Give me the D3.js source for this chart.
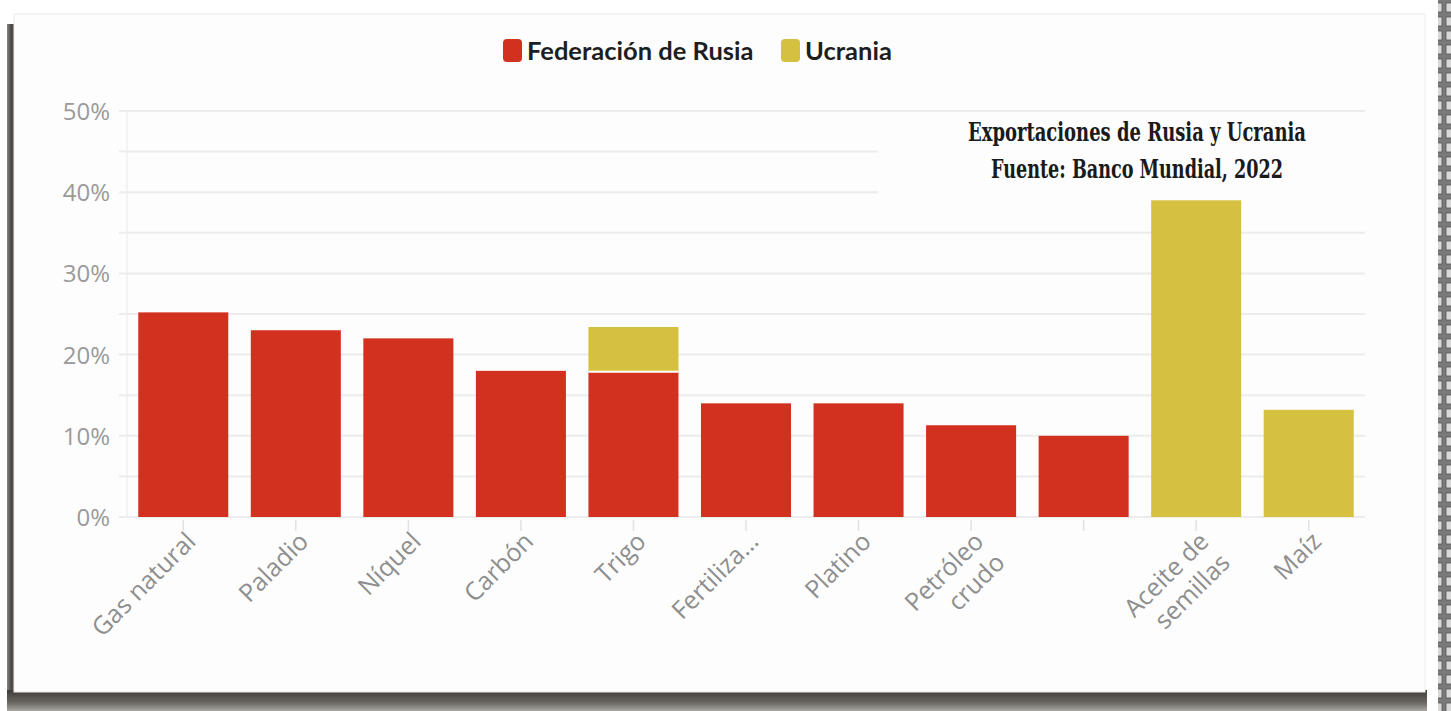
<!DOCTYPE html>
<html>
<head>
<meta charset="utf-8">
<script src="https://cdn.jsdelivr.net/npm/d3@7"></script>
<style>
  html, body { margin: 0; padding: 0; background: #ffffff; }
  svg { display: block; }
</style>
</head>
<body>
<svg id="chart" width="1451" height="711"></svg>
<script>
// ---- Data ----
const categories = ["Gas natural", "Paladio", "Níquel", "Carbón", "Trigo", "Fertiliza…", "Platino", "Petróleo\ncrudo", "", "Aceite de\nsemillas", "Maíz"];
const russiaValues = [25.2, 23.0, 22.0, 18.0, 17.9, 14.0, 14.0, 11.3, 10.0, 0, 0];
const ukraineValues = [0, 0, 0, 0, 5.5, 0, 0, 0, 0, 39.0, 13.2];
const seriesNames = ["Federación de Rusia", "Ucrania"];
const yTicks = [0, 10, 20, 30, 40, 50];
const yGridTicks = [0, 5, 10, 15, 20, 25, 30, 35, 40, 45, 50];
const titleLines = ["Exportaciones de Rusia y Ucrania", "Fuente: Banco Mundial, 2022"];

const RED = "#d2311f";
const YELLOW = "#d6c03f";

const svg = d3.select("#chart");
const W = 1451, H = 711;

// ---- Frame / card with shadow ----
const defs = svg.append("defs");
const gB = defs.append("linearGradient").attr("id", "shadowB").attr("x1", 0).attr("y1", 0).attr("x2", 0).attr("y2", 1);
gB.append("stop").attr("offset", "0%").attr("stop-color", "#3f3d38");
gB.append("stop").attr("offset", "60%").attr("stop-color", "#6a6762");
gB.append("stop").attr("offset", "100%").attr("stop-color", "#a9a7a2");
const gL = defs.append("linearGradient").attr("id", "shadowL").attr("x1", 0).attr("y1", 0).attr("x2", 1).attr("y2", 0);
gL.append("stop").attr("offset", "0%").attr("stop-color", "#8a8884");
gL.append("stop").attr("offset", "50%").attr("stop-color", "#4a4844");
gL.append("stop").attr("offset", "100%").attr("stop-color", "#5a5854");

const pat = defs.append("pattern").attr("id", "film").attr("patternUnits", "userSpaceOnUse")
  .attr("width", 13).attr("height", 14);
pat.append("rect").attr("width", 13).attr("height", 14).attr("fill", "#7a7a7a");
pat.append("rect").attr("x", 3).attr("y", 3).attr("width", 9).attr("height", 9).attr("fill", "#d8d8d8")
  .attr("stroke", "#555").attr("stroke-width", 0.8);

svg.append("rect").attr("x", 0).attr("y", 0).attr("width", W).attr("height", H).attr("fill", "#ffffff");
svg.append("rect").attr("x", 1438).attr("y", 0).attr("width", 13).attr("height", H).attr("fill", "url(#film)");
svg.append("rect").attr("x", 7).attr("y", 24).attr("width", 8).attr("height", 680).attr("fill", "url(#shadowL)");
svg.append("rect").attr("x", 7).attr("y", 690).attr("width", 1420).attr("height", 21).attr("fill", "url(#shadowB)");
svg.append("rect").attr("x", 14).attr("y", 14).attr("width", 1411).attr("height", 678)
  .attr("fill", "#fdfdfd").attr("stroke", "#ececea").attr("stroke-width", 1);

// ---- Scales ----
const x = d3.scaleBand().domain(d3.range(categories.length)).range([127, 1365])
  .paddingInner(0.2).paddingOuter(0.1);
const y = d3.scaleLinear().domain([0, 50]).range([517, 111]);

const g = svg.append("g");

// gridlines
g.selectAll("line.grid").data(yGridTicks).join("line")
  .attr("class", "grid")
  .attr("x1", 119).attr("x2", 1365)
  .attr("y1", d => y(d)).attr("y2", d => y(d))
  .attr("stroke", "#ececec").attr("stroke-width", 2);
// faint vertical axis line
g.append("line").attr("x1", 127).attr("x2", 127).attr("y1", y(50)).attr("y2", y(0))
  .attr("stroke", "#efefef").attr("stroke-width", 1.5);

// y labels
const yAxis = d3.axisLeft(y).tickValues(yTicks).tickFormat(d => d + "%").tickSize(0).tickPadding(0);
const yg = g.append("g").attr("transform", "translate(110,0)").call(yAxis);
yg.select(".domain").remove();
yg.selectAll("text").attr("font-family", "'Open Sans', sans-serif").attr("font-size", 24)
  .attr("fill", "#9a9a9a").attr("dy", "0.35em");

// white box behind title
g.append("rect").attr("x", 878).attr("y", 120).attr("width", 490).attr("height", 85).attr("fill", "#fdfdfd");

// bars
const stackData = categories.map((c, i) => ({ i, r: russiaValues[i], u: ukraineValues[i] }));
g.selectAll("rect.ru").data(stackData.filter(d => d.r > 0)).join("rect")
  .attr("class", "ru")
  .attr("x", d => x(d.i)).attr("width", x.bandwidth())
  .attr("y", d => y(d.r)).attr("height", d => y(0) - y(d.r))
  .attr("fill", RED);
g.selectAll("rect.ua").data(stackData.filter(d => d.u > 0)).join("rect")
  .attr("class", "ua")
  .attr("x", d => x(d.i)).attr("width", x.bandwidth())
  .attr("y", d => y(d.r + d.u)).attr("height", d => y(d.r) - y(d.r + d.u))
  .attr("fill", YELLOW);
// white separator in stacked bars
g.selectAll("line.sep").data(stackData.filter(d => d.r > 0 && d.u > 0)).join("line")
  .attr("x1", d => x(d.i)).attr("x2", d => x(d.i) + x.bandwidth())
  .attr("y1", d => y(d.r)).attr("y2", d => y(d.r))
  .attr("stroke", "#ffffff").attr("stroke-width", 2);

// x ticks
g.selectAll("line.xt").data(stackData).join("line")
  .attr("x1", d => x(d.i) + x.bandwidth() / 2).attr("x2", d => x(d.i) + x.bandwidth() / 2)
  .attr("y1", 520).attr("y2", 531)
  .attr("stroke", "#e2e2e2").attr("stroke-width", 1.5);

// x labels
const xl = g.selectAll("text.xl").data(stackData).join("text")
  .attr("class", "xl")
  .attr("transform", d => `translate(${x(d.i) + x.bandwidth() / 2 + 14},543) rotate(-45)`)
  .attr("text-anchor", "end")
  .attr("font-family", "'Open Sans', sans-serif").attr("font-size", 25)
  .attr("fill", "#8e8e8e");
xl.each(function(d) {
  const lines = categories[d.i].split("\n");
  d3.select(this).selectAll("tspan").data(lines).join("tspan")
    .attr("x", 0)
    .attr("y", (l, k) => k * 30)
    .text(l => l);
});

// legend
const legend = svg.append("g");
const legendItems = [
  { name: seriesNames[0], color: RED, x: 503, tx: 527 },
  { name: seriesNames[1], color: YELLOW, x: 781, tx: 805 }
];
legend.selectAll("rect").data(legendItems).join("rect")
  .attr("x", d => d.x).attr("y", 39).attr("width", 19).attr("height", 23).attr("rx", 4)
  .attr("fill", d => d.color);
legend.selectAll("text").data(legendItems).join("text")
  .attr("x", d => d.tx).attr("y", 60)
  .attr("font-family", "Lato, 'Open Sans', sans-serif").attr("font-weight", 700)
  .attr("font-size", 25.5).attr("fill", "#1e1e1e")
  .text(d => d.name);

// title
const titleWidths = [338, 292];
svg.selectAll("text.title").data(titleLines).join("text")
  .attr("class", "title")
  .attr("x", 1137).attr("y", (d, i) => 141 + i * 37)
  .attr("text-anchor", "middle")
  .attr("font-family", "'DejaVu Serif Condensed', 'DejaVu Serif', serif")
  .attr("font-weight", 700).attr("font-size", 26).attr("fill", "#1a1a1a")
  .attr("textLength", (d, i) => titleWidths[i]).attr("lengthAdjust", "spacingAndGlyphs")
  .text(d => d);
</script>
</body>
</html>
